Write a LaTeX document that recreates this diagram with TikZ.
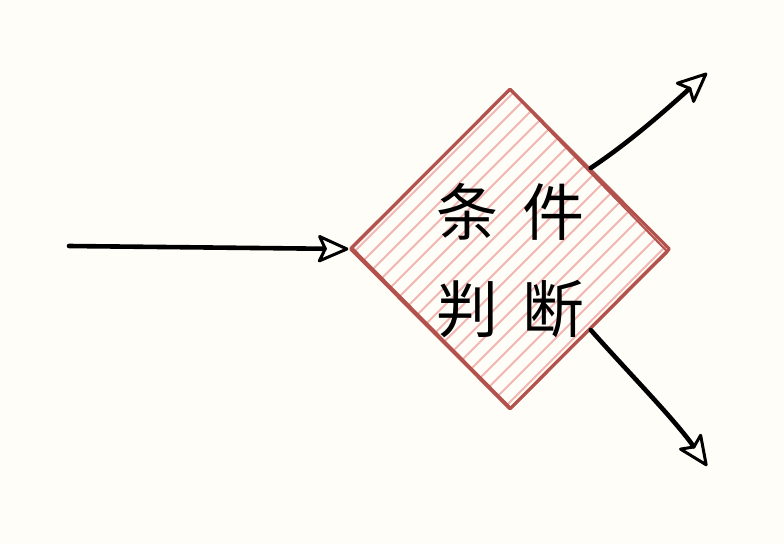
\documentclass[tikz,border=0pt]{standalone}
\usepackage{fontspec}
\usepackage{xcolor}
\usetikzlibrary{arrows.meta}
\usetikzlibrary{shapes.geometric}
\newfontfamily\cjk{Noto Sans CJK SC}
\definecolor{paper}{HTML}{FFFDF7}
\definecolor{rim}{HTML}{B3514C}
\definecolor{hatchred}{HTML}{F2B6B3}

\begin{document}
\begin{tikzpicture}[x=1pt, y=-1pt,
  sketch/.style={line width=4.6pt, line cap=round, black, -{Stealth[open, round, length=34pt, width=30pt, inset=7pt, line width=3pt]}},
  hatch/.style={hatchred, line width=1.8pt},
  rough/.style={draw=rim, line width=2pt, line join=round},
  decision/.style={diamond, draw=rim, line width=3.2pt, line join=round, minimum width=320pt, minimum height=321pt, inner sep=0pt,
    path picture={
      \foreach \k in {-333,-315,...,333}
        \draw[hatch] (path picture bounding box.center) ++(\k-200,200) -- ++(400,-400);
    }},
  words/.style={align=center, inner sep=0pt, font=\cjk\fontsize{62}{97}\selectfont}
]

\useasboundingbox[fill=paper] (0,0) rectangle (784,544);

\def\gap{24pt};

% the test
\node[decision] (cond) at (510,249) {};
\node[words] (cond_text) at (510,261) {条\hspace{\gap}件\\判\hspace{\gap}断};

% second pass of the outline
\draw[rough] ([shift={(0,3)}]cond.north) -- ([shift={(-4,3)}]cond.east) -- ([shift={(1,-3)}]cond.south) -- ([shift={(3,-2)}]cond.west) -- cycle;

% free ends
\coordinate (in_start) at (69,246);
\coordinate (yes_end) at (707,73);
\coordinate (no_end) at (707,466);

% into the test
\draw[sketch] (in_start) -- (cond.west);

% out of the test
\draw[sketch] (cond.north east) .. controls (630,142) and (668,108) .. (yes_end);
\draw[sketch] (cond.south east) .. controls (628,372) and (676,421) .. (no_end);

\end{tikzpicture}
\end{document}
